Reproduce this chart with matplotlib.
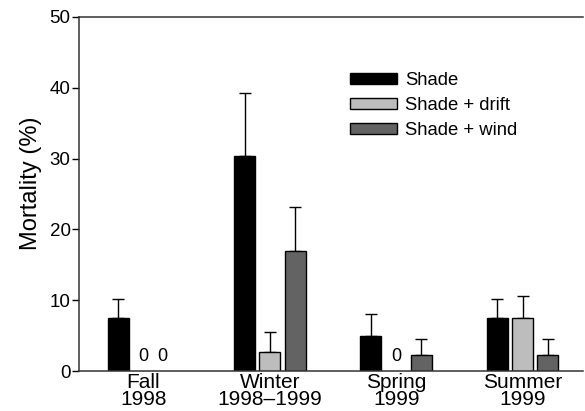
import numpy as np
import matplotlib
matplotlib.use("Agg")
import matplotlib.pyplot as plt
import matplotlib.patches as mpatches

seasons = ["Fall\n1998", "Winter\n1998\u20131999", "Spring\n1999", "Summer\n1999"]
treatments = ["Shade", "Shade + drift", "Shade + wind"]

# mean mortality (%) and upper error (SE) per treatment, per season
shade      = [7.5, 30.3, 5.0, 7.5]
shade_err  = [2.7, 8.9, 3.0, 2.7]
drift      = [0.0, 2.7, 0.0, 7.5]
drift_err  = [0.0, 2.8, 0.0, 3.1]
wind       = [0.0, 17.0, 2.3, 2.3]
wind_err   = [0.0, 6.2, 2.2, 2.2]

COLORS = ["#000000", "#bdbdbd", "#636363"]

plt.rcParams.update({
    "font.family": ["Liberation Sans", "DejaVu Sans"],
    "font.size": 13,
})

fig = plt.figure(figsize=(5.85, 4.11), dpi=100)
ax = fig.add_axes([0.135, 0.097, 0.862, 0.862])

x = np.arange(len(seasons))
offset = 0.2
width = 0.167

series = [(shade, shade_err), (drift, drift_err), (wind, wind_err)]
for i, (vals, errs) in enumerate(series):
    pos = x + (i - 1) * offset
    vals = np.array(vals)
    errs = np.array(errs)
    mask = vals > 0
    ax.bar(pos[mask], vals[mask], width=width, color=COLORS[i],
           edgecolor="black", linewidth=1.0, zorder=2)
    ax.errorbar(pos[mask], vals[mask], yerr=[np.zeros(mask.sum()), errs[mask]],
                fmt="none", ecolor="black", elinewidth=1.0, capsize=4.5,
                capthick=1.0, zorder=1)
    # zero values are written as "0" instead of a bar
    for p in pos[~mask]:
        nudge = -0.05 if (i == 2) else 0.0
        ax.text(p + nudge, 2.0, "0", ha="center", va="center", fontsize=13)

ax.set_xlim(-0.51, 3.48)
ax.set_ylim(0, 50)
ax.set_yticks([0, 10, 20, 30, 40, 50])
ax.set_xticks(x)
ax.set_xticklabels(seasons, linespacing=0.92)
ax.tick_params(axis="x", length=0, pad=1, labelsize=15)
ax.tick_params(axis="y", length=5, width=1, pad=1, labelsize=13.5)
ax.set_ylabel("Mortality (%)", fontsize=17, labelpad=3)
ax.yaxis.set_label_coords(-0.074, 0.53)

for s in ["left", "bottom", "top"]:
    ax.spines[s].set_linewidth(1.1)
    ax.spines[s].set_color("#333333")
ax.spines["right"].set_visible(False)

handles = [mpatches.Patch(facecolor=c, edgecolor="black", linewidth=1.0, label=t)
           for c, t in zip(COLORS, treatments)]
ax.legend(handles=handles, loc="upper left", bbox_to_anchor=(0.508, 0.885),
          frameon=False, fontsize=13.3, handlelength=2.55, handleheight=0.55,
          handletextpad=0.45, labelspacing=0.42, borderpad=0.3)

fig.savefig("out.png", dpi=100)
